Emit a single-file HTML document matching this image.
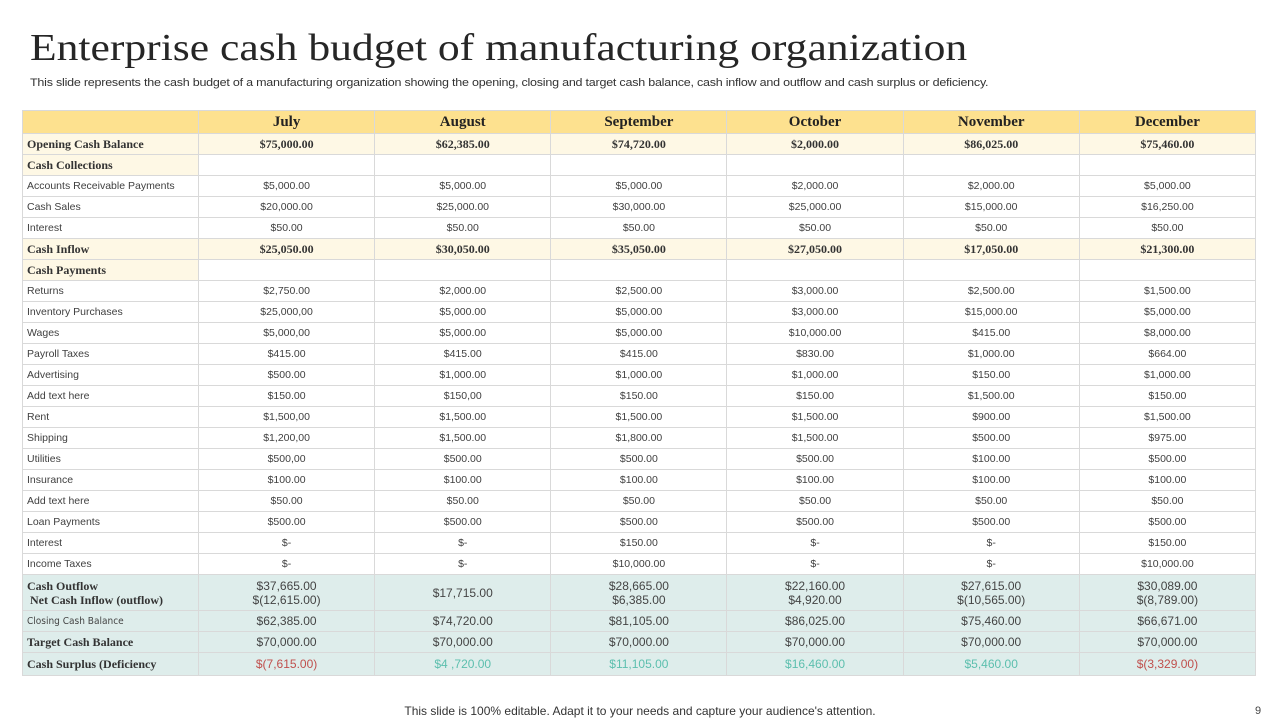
<!DOCTYPE html>
<html><head><meta charset="utf-8">
<style>
body{margin:0;width:1280px;height:720px;background:#fff;position:relative;overflow:hidden;font-family:"Liberation Sans",sans-serif;}
#title{position:absolute;left:30px;top:26px;font-family:"Liberation Serif",serif;font-size:38px;color:#262626;white-space:nowrap;transform:scaleX(1.147);transform-origin:0 0;}
#sub{position:absolute;left:30px;top:77px;font-size:11px;color:#333;letter-spacing:-0.2px;white-space:nowrap;transform:scaleX(1.138);transform-origin:0 0;}
table{position:absolute;left:22px;top:110px;width:1234px;border-collapse:collapse;table-layout:fixed;}
td{border:1px solid #d9d9d9;font-size:10.5px;color:#404040;text-align:center;padding:0;height:20px;white-space:nowrap;}
td.l{text-align:left;padding-left:4px;}
tr.hd td{background:#fde18f;font-family:"Liberation Serif",serif;font-weight:bold;font-size:15px;color:#222;height:22px;}
tr.b td{background:#fef8e5;font-family:"Liberation Serif",serif;font-weight:bold;font-size:12px;color:#333;}
tr.bb td.l{background:#fef8e5;font-family:"Liberation Serif",serif;font-weight:bold;font-size:12px;color:#333;}
tr.bb td{background:#fff;}
tr.t td{background:#deedeb;font-size:12px;color:#444;}
tr.t td.s{font-family:"Liberation Serif",serif;font-weight:bold;color:#333;}
#foot{position:absolute;left:0;width:1280px;top:704px;text-align:center;font-size:12px;color:#333;}
#pg{position:absolute;left:1255px;top:705px;font-size:11px;color:#444;}
</style></head><body>
<div id="title">Enterprise cash budget of manufacturing organization</div>
<div id="sub">This slide represents the cash budget of a manufacturing organization showing the opening, closing and target cash balance, cash inflow and outflow and cash surplus or deficiency.</div>
<table id="tbl">
<colgroup><col style="width:176px"><col><col><col><col><col><col></colgroup>
<tbody id="tb"></tbody>
</table>
<div id="foot">This slide is 100% editable. Adapt it to your needs and capture your audience's attention.</div>
<div id="pg">9</div>
<script>
const months=["July","August","September","October","November","December"];
const rows=[
["b","Opening Cash Balance","$75,000.00","$62,385.00","$74,720.00","$2,000.00","$86,025.00","$75,460.00"],
["bb","Cash Collections","","","","","",""],
["n","Accounts Receivable Payments","$5,000.00","$5,000.00","$5,000.00","$2,000.00","$2,000.00","$5,000.00"],
["n","Cash Sales","$20,000.00","$25,000.00","$30,000.00","$25,000.00","$15,000.00","$16,250.00"],
["n","Interest","$50.00","$50.00","$50.00","$50.00","$50.00","$50.00"],
["b","Cash Inflow","$25,050.00","$30,050.00","$35,050.00","$27,050.00","$17,050.00","$21,300.00"],
["bb","Cash Payments","","","","","",""],
["n","Returns","$2,750.00","$2,000.00","$2,500.00","$3,000.00","$2,500.00","$1,500.00"],
["n","Inventory Purchases","$25,000,00","$5,000.00","$5,000.00","$3,000.00","$15,000.00","$5,000.00"],
["n","Wages","$5,000,00","$5,000.00","$5,000.00","$10,000.00","$415.00","$8,000.00"],
["n","Payroll Taxes","$415.00","$415.00","$415.00","$830.00","$1,000.00","$664.00"],
["n","Advertising","$500.00","$1,000.00","$1,000.00","$1,000.00","$150.00","$1,000.00"],
["n","Add text here","$150.00","$150,00","$150.00","$150.00","$1,500.00","$150.00"],
["n","Rent","$1,500,00","$1,500.00","$1,500.00","$1,500.00","$900.00","$1,500.00"],
["n","Shipping","$1,200,00","$1,500.00","$1,800.00","$1,500.00","$500.00","$975.00"],
["n","Utilities","$500,00","$500.00","$500.00","$500.00","$100.00","$500.00"],
["n","Insurance","$100.00","$100.00","$100.00","$100.00","$100.00","$100.00"],
["n","Add text here","$50.00","$50.00","$50.00","$50.00","$50.00","$50.00"],
["n","Loan Payments","$500.00","$500.00","$500.00","$500.00","$500.00","$500.00"],
["n","Interest","$-","$-","$150.00","$-","$-","$150.00"],
["n","Income Taxes","$-","$-","$10,000.00","$-","$-","$10,000.00"]
];
const outflow=["$37,665.00<br>$(12,615.00)","$17,715.00","$28,665.00<br>$6,385.00","$22,160.00<br>$4,920.00","$27,615.00<br>$(10,565.00)","$30,089.00<br>$(8,789.00)"];
const closing=["$62,385.00","$74,720.00","$81,105.00","$86,025.00","$75,460.00","$66,671.00"];
const target=["$70,000.00","$70,000.00","$70,000.00","$70,000.00","$70,000.00","$70,000.00"];
const surplus=["$(7,615.00)","$4 ,720.00","$11,105.00","$16,460.00","$5,460.00","$(3,329.00)"];
const tb=document.getElementById('tb');
function slug(s){return s.toLowerCase().replace(/[^a-z0-9]+/g,'-').replace(/^-|-$/g,'');}
let tr=document.createElement('tr');tr.className='hd';


let td=document.createElement('td');td.className='l';tr.appendChild(td);
months.forEach(m=>{const c=document.createElement('td');c.textContent=m;


tr.appendChild(c);});
tb.appendChild(tr);
rows.forEach((r,i)=>{const t=document.createElement('tr');t.className=r[0];


for(let k=1;k<8;k++){const c=document.createElement('td');if(k===1)c.className='l';c.textContent=r[k];


t.appendChild(c);}
tb.appendChild(t);});
function addRow(label,vals,lblStyle,h,extra,colors){const t=document.createElement('tr');t.className='t';


const c=document.createElement('td');c.className='l'+(lblStyle?' s':'');c.innerHTML=label;c.style.height=h+'px';if(extra)c.style.lineHeight='14px';if(!lblStyle){c.style.fontFamily='"DejaVu Sans Condensed","Liberation Sans",sans-serif';c.style.fontSize='10px';}


t.appendChild(c);
vals.forEach((v,j)=>{const d=document.createElement('td');d.innerHTML=v;if(extra)d.style.lineHeight='14px';if(colors)d.style.color=colors[j];


t.appendChild(d);});
tb.appendChild(t);}
addRow("Cash Outflow<br>&nbsp;Net Cash Inflow (outflow)",outflow,true,35,true);
addRow("Closing Cash Balance",closing,false,20);
addRow("Target Cash Balance",target,true,20);
const sc=surplus.map(s=>s.indexOf('(')>=0?'#c0504d':'#5cbfae');
addRow("Cash Surplus (Deficiency",surplus,true,22,false,sc);
</script>
</body></html>
